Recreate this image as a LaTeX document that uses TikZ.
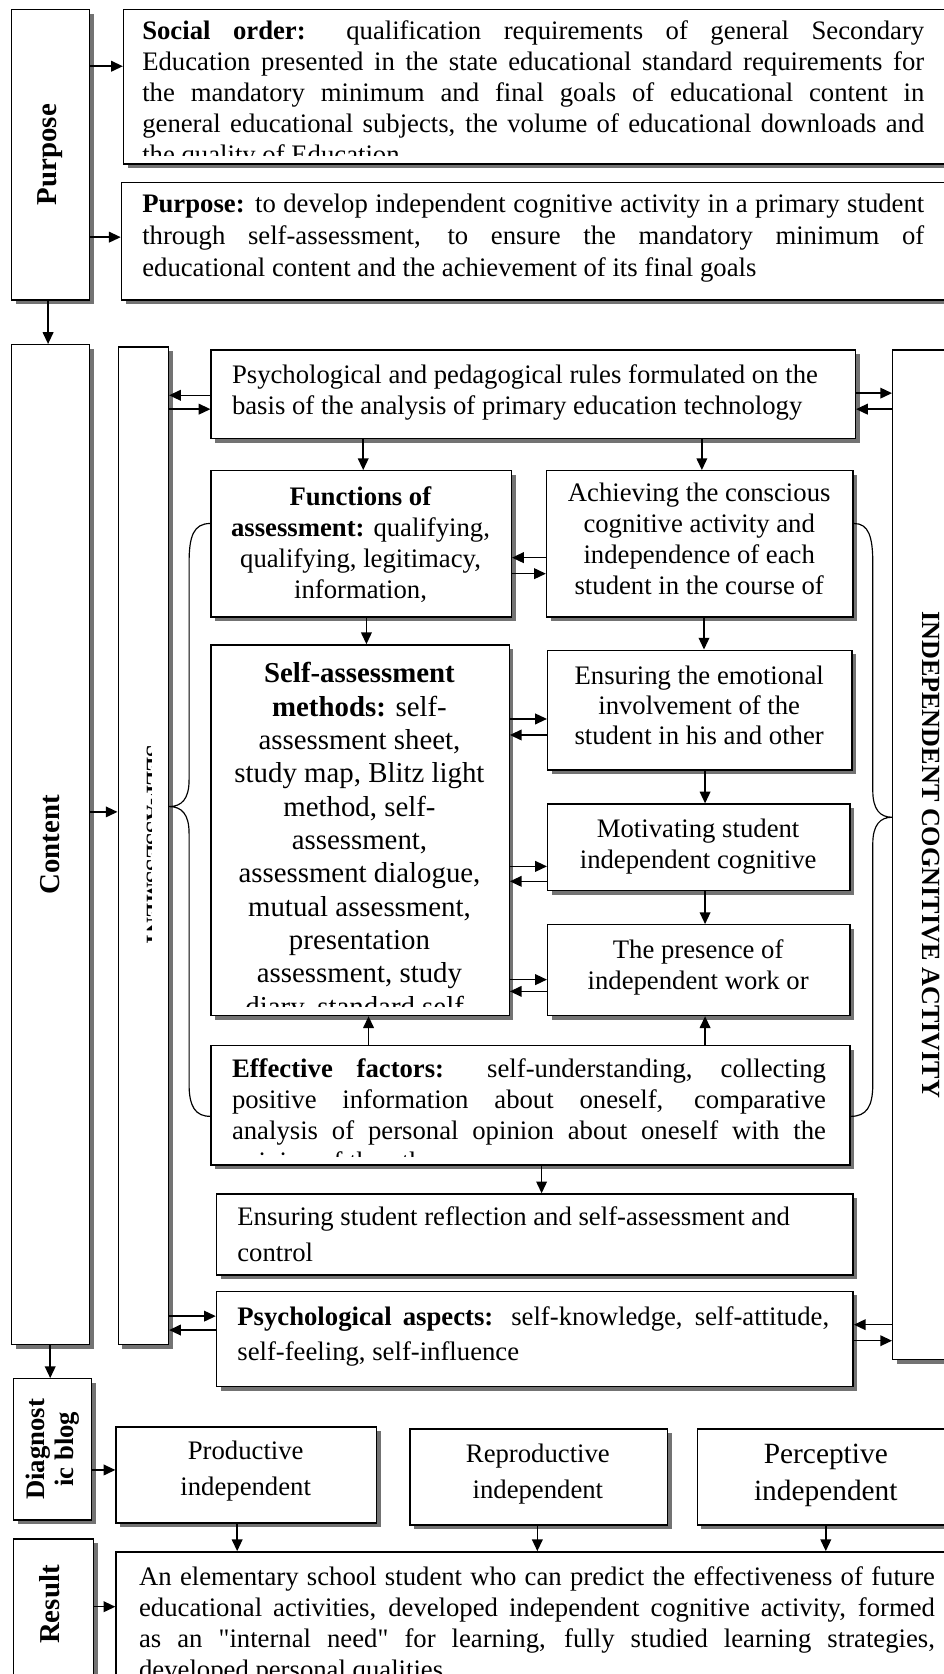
\documentclass[tikz,border=0pt]{standalone}
\usepackage{fontspec}
\setmainfont{Liberation Serif}
\newfontfamily\quotefont{Liberation Serif}
\usetikzlibrary{arrows.meta,shadows}
\tikzset{>={Triangle[length=11pt,width=10pt]}}
\tolerance=9999
\hyphenpenalty=10000
\newcommand{\dq}{{\quotefont"}}
\tikzset{
  box/.style={draw, line width=1.3pt, fill=white, inner sep=0pt, anchor=north west,
    drop shadow={shadow xshift=4pt, shadow yshift=-4pt, fill=black!55, opacity=1}},
  txt/.style={inner sep=0pt, font=\fontsize{25}{29}\selectfont},
  lbl/.style={inner sep=0pt, rotate=90, font=\bfseries\fontsize{27}{29}\selectfont},
  link/.style={->, line width=1.4pt},
  brace/.style={line width=1.1pt},
}

\begin{document}
\begin{tikzpicture}[x=1pt, y=-1pt]
    \useasboundingbox (0,0) rectangle (883,1567);
    % left column
    \node[box, minimum width=73pt, minimum height=272pt] (purp) at (10,8) {};
    \node[lbl] (purp-t) at (purp.center) {Purpose};
    \node[box, minimum width=73pt, minimum height=936pt] (cont) at (10,322) {};
    \node[lbl] (cont-t) at (cont.center) {Content};
    \node[box, minimum width=73pt, minimum height=132pt] (diag) at (12,1290) {};
    \node[lbl, font=\bfseries\fontsize{25}{27}\selectfont, align=center] (diag-t) at (diag.center) {Diagnost\\ic blog};
    \node[box, minimum width=75pt, minimum height=140pt] (res) at (12,1440) {};
    \node[lbl] (res-t) at ([xshift=-4pt]res.center |- 0,1502) {Result};

    % purpose blocks
    \node[box, minimum width=790pt, minimum height=145pt] (soc) at (115,8) {};
    \begin{scope}
        \clip (soc.north west) rectangle ([yshift=9pt]soc.south east);
        \node[txt, text width=732pt, align=justify, anchor=north west] (soc-t) at (133,19)
        {\textbf{Social order:} qualification requirements of general Secondary\linebreak
        Education presented in the state educational standard requirements for\linebreak
        the mandatory minimum and final goals of educational content in\linebreak
        general educational subjects, the volume of educational downloads and\linebreak
        the quality of Education};
    \end{scope}
    \node[box, minimum width=792pt, minimum height=110pt] (goal) at (113,170) {};
    \node[txt, font=\fontsize{25}{30}\selectfont, text width=732pt, align=justify, anchor=north west] (goal-t) at (133,181)
    {\textbf{Purpose:} to develop independent cognitive activity in a primary student\linebreak
    through self-assessment, to ensure the mandatory minimum of\linebreak
    educational content and the achievement of its final goals};

    % content columns
    \node[box, minimum width=47pt, minimum height=934pt] (mid) at (110,324) {};
    \begin{scope}
        \clip (133,670) rectangle (142,910);
        \node[inner sep=0pt, rotate=-90, font=\bfseries\fontsize{20}{24}\selectfont] (mid-t) at (144,792) {SELF-ASSESSMENT};
    \end{scope}
    \node[box, minimum width=70pt, minimum height=945pt] (indep) at (835,327) {};
    \node[inner sep=0pt, rotate=-90, font=\bfseries\fontsize{24.5}{27}\selectfont] (indep-t) at (871,800) {INDEPENDENT COGNITIVE ACTIVITY};

    \node[box, minimum width=603pt, minimum height=83pt] (rules) at (197,327) {};
    \node[txt, align=left, anchor=north west] (rules-t) at (217,341)
    {Psychological and pedagogical rules formulated on the\\basis of the analysis of primary education technology};

    \node[box, minimum width=281pt, minimum height=137pt] (func) at (197,440) {};
    \node[txt, align=center, anchor=north] (func-t) at (337.5,455)
    {\textbf{Functions of}\\\textbf{assessment:} qualifying,\\qualifying, legitimacy,\\information,};
    \node[box, minimum width=287pt, minimum height=137pt] (ach) at (511,440) {};
    \node[txt, align=center, anchor=north] (ach-t) at (654.5,452)
    {Achieving the conscious\\cognitive activity and\\independence of each\\student in the course of};

    \node[box, minimum width=279pt, minimum height=347pt] (meth) at (197,603) {};
    \begin{scope}
        \clip (meth.north west) rectangle ([yshift=9pt]meth.south east);
        \node[txt, font=\fontsize{27}{31.2}\selectfont, align=center, anchor=north] (meth-t) at (336.5,620)
        {\textbf{Self-assessment}\\\textbf{methods:} self-\\assessment sheet,\\study map, Blitz light\\method, self-\\assessment,\\assessment dialogue,\\mutual assessment,\\presentation\\assessment, study\\diary, standard self-};
    \end{scope}
    \node[box, minimum width=285pt, minimum height=112pt] (emo) at (512,608) {};
    \node[txt, font=\fontsize{25}{28}\selectfont, align=center, anchor=north] (emo-t) at (654.5,623)
    {Ensuring the emotional\\involvement of the\\student in his and other};
    \node[box, minimum width=283pt, minimum height=81pt] (motiv) at (512,752) {};
    \node[txt, align=center, anchor=north] (motiv-t) at (653.5,766)
    {Motivating student\\independent cognitive};
    \node[box, minimum width=283pt, minimum height=85pt] (pres) at (512,865) {};
    \node[txt, align=center, anchor=north] (pres-t) at (653.5,879)
    {The presence of\\independent work or};

    \node[box, minimum width=598pt, minimum height=112pt] (fact) at (197,978) {};
    \begin{scope}
        \clip (fact.north west) rectangle ([yshift=9pt]fact.south east);
        \node[txt, text width=556pt, align=justify, anchor=north west] (fact-t) at (217,991)
        {\textbf{Effective factors:} self-understanding, collecting\linebreak
        positive information about oneself, comparative\linebreak
        analysis of personal opinion about oneself with the\linebreak
        opinion of the others};
    \end{scope}
    \node[box, minimum width=596pt, minimum height=76pt] (refl) at (202,1117) {};
    \node[txt, font=\fontsize{25}{34}\selectfont, align=left, anchor=north west] (refl-t) at (222,1129)
    {Ensuring student reflection and self-assessment and\\control};
    \node[box, minimum width=596pt, minimum height=89pt] (asp) at (202,1208) {};
    \node[txt, font=\fontsize{25}{33}\selectfont, text width=554pt, align=justify, anchor=north west] (asp-t) at (222,1223)
    {\textbf{Psychological aspects:} self-knowledge, self-attitude,\linebreak
    self-feeling, self-influence};

    % diagnostic and result
    \node[box, minimum width=244pt, minimum height=90pt] (prod) at (108,1335) {};
    \node[txt, font=\fontsize{25}{33}\selectfont, align=center] (prod-t) at (230,1377) {Productive\\independent};
    \node[box, minimum width=241pt, minimum height=90pt] (repr) at (383,1337) {};
    \node[txt, font=\fontsize{25}{34}\selectfont, align=center] (repr-t) at (503.5,1380) {Reproductive\\independent};
    \node[box, minimum width=250pt, minimum height=90pt] (perc) at (652,1337) {};
    \node[txt, font=\fontsize{27.5}{35}\selectfont, align=center] (perc-t) at (773,1381) {Perceptive\\independent};
    \node[box, minimum width=800pt, minimum height=130pt] (restxt) at (108,1452) {};
    \begin{scope}
        \clip (restxt.north west) rectangle (restxt.south east);
        \node[txt, text width=745pt, align=justify, anchor=north west] (restxt-t) at (130,1466)
        {An elementary school student who can predict the effectiveness of future\linebreak
        educational activities, developed independent cognitive activity, formed\linebreak
        as an \dq internal need\dq{} for learning, fully studied learning strategies,\linebreak
        developed personal qualities};
    \end{scope}

    % braces
    \draw[brace] (func.west |- 0,490) .. controls (181,490) and (177,502) .. (177,527) -- (177,730)
        .. controls (177,748) and (170,755) .. (mid.east |- 0,755)
        .. controls (170,755) and (177,762) .. (177,780) -- (177,1015)
        .. controls (177,1036) and (183,1045) .. (fact.west |- 0,1045);
    \draw[brace] (ach.east |- 0,490) .. controls (813,490) and (817,502) .. (817,527) -- (817,740)
        .. controls (817,758) and (824,765) .. (indep.west |- 0,765)
        .. controls (824,765) and (817,772) .. (817,790) -- (817,1015)
        .. controls (817,1036) and (811,1045) .. (fact.east |- 0,1045);

    % connectors
    \draw[link] (purp.east |- 0,62) -- (soc.west |- 0,62);
    \draw[link] (purp.east |- 0,222) -- (goal.west |- 0,222);
    \draw[link] (purp.south -| 45,0) -- (cont.north -| 45,0);
    \draw[link] (cont.east |- 0,760) -- (mid.west |- 0,760);
    \draw[link] (rules.west |- 0,370) -- (mid.east |- 0,370);
    \draw[link] (mid.east |- 0,383) -- (rules.west |- 0,383);
    \draw[link] (rules.east |- 0,368) -- (indep.west |- 0,368);
    \draw[link] (indep.west |- 0,383) -- (rules.east |- 0,383);
    \draw[link] (rules.south -| 340,0) -- (func.north -| 340,0);
    \draw[link] (rules.south -| 657,0) -- (ach.north -| 657,0);
    \draw[link] (ach.west |- 0,522) -- (func.east |- 0,522);
    \draw[link] (func.east |- 0,537) -- (ach.west |- 0,537);
    \draw[link] (func.south -| 343,0) -- (meth.north -| 343,0);
    \draw[link] (ach.south -| 659,0) -- (emo.north -| 659,0);
    \draw[link] (meth.east |- 0,673) -- (emo.west |- 0,673);
    \draw[link] (emo.west |- 0,688) -- (meth.east |- 0,688);
    \draw[link] (emo.south -| 660,0) -- (motiv.north -| 660,0);
    \draw[link] (meth.east |- 0,811) -- (motiv.west |- 0,811);
    \draw[link] (motiv.west |- 0,825) -- (meth.east |- 0,825);
    \draw[link] (motiv.south -| 660,0) -- (pres.north -| 660,0);
    \draw[link] (meth.east |- 0,917) -- (pres.west |- 0,917);
    \draw[link] (pres.west |- 0,928) -- (meth.east |- 0,928);
    \draw[link] (fact.north -| 345,0) -- (meth.south -| 345,0);
    \draw[link] (fact.north -| 660,0) -- (pres.south -| 660,0);
    \draw[link] (fact.south -| 507,0) -- (refl.north -| 507,0);
    \draw[link] (mid.east |- 0,1232) -- (asp.west |- 0,1232);
    \draw[link] (asp.west |- 0,1245) -- (mid.east |- 0,1245);
    \draw[link] (indep.west |- 0,1240) -- (asp.east |- 0,1240);
    \draw[link] (asp.east |- 0,1255) -- (indep.west |- 0,1255);
    \draw[link] (cont.south -| 47,0) -- (diag.north -| 47,0);
    \draw[link] (diag.east |- 0,1376) -- (prod.west |- 0,1376);
    \draw[link] (prod.south -| 222,0) -- (restxt.north -| 222,0);
    \draw[link] (repr.south -| 503,0) -- (restxt.north -| 503,0);
    \draw[link] (perc.south -| 773,0) -- (restxt.north -| 773,0);
    \draw[link] (res.east |- 0,1504) -- (restxt.west |- 0,1504);
\end{tikzpicture}
\end{document}
